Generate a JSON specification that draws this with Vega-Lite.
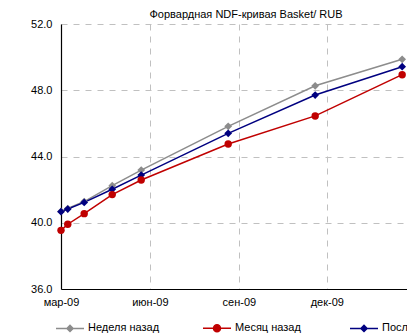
{
  "$schema": "https://vega.github.io/schema/vega-lite/v6.json",
  "width": 346,
  "height": 265,
  "autosize": {"type": "none"},
  "padding": {"left": 61, "top": 24, "right": 0, "bottom": 47},
  "background": "white",
  "title": {
    "text": "Форвардная NDF-кривая Basket/ RUB",
    "font": "Liberation Sans",
    "fontSize": 11,
    "fontWeight": "normal",
    "color": "#000000",
    "anchor": "middle",
    "dx": 12,
    "offset": -2
  },
  "config": {
    "view": {"stroke": null},
    "font": "Liberation Sans"
  },
  "data": {
    "values": [
      {"series": "Неделя назад", "date": "2009-03-01", "value": 40.68},
      {"series": "Неделя назад", "date": "2009-03-08", "value": 40.86},
      {"series": "Неделя назад", "date": "2009-03-25", "value": 41.28},
      {"series": "Неделя назад", "date": "2009-04-23", "value": 42.24},
      {"series": "Неделя назад", "date": "2009-05-23", "value": 43.18},
      {"series": "Неделя назад", "date": "2009-08-21", "value": 45.82},
      {"series": "Неделя назад", "date": "2009-11-19", "value": 48.27},
      {"series": "Неделя назад", "date": "2010-02-17", "value": 49.87},
      {"series": "Месяц назад", "date": "2009-03-01", "value": 39.54},
      {"series": "Месяц назад", "date": "2009-03-08", "value": 39.91},
      {"series": "Месяц назад", "date": "2009-03-25", "value": 40.55},
      {"series": "Месяц назад", "date": "2009-04-23", "value": 41.7},
      {"series": "Месяц назад", "date": "2009-05-23", "value": 42.58},
      {"series": "Месяц назад", "date": "2009-08-21", "value": 44.75},
      {"series": "Месяц назад", "date": "2009-11-19", "value": 46.45},
      {"series": "Месяц назад", "date": "2010-02-17", "value": 48.94},
      {"series": "Посл. данные", "date": "2009-03-01", "value": 40.67},
      {"series": "Посл. данные", "date": "2009-03-08", "value": 40.83},
      {"series": "Посл. данные", "date": "2009-03-25", "value": 41.23},
      {"series": "Посл. данные", "date": "2009-04-23", "value": 42.02},
      {"series": "Посл. данные", "date": "2009-05-23", "value": 42.88},
      {"series": "Посл. данные", "date": "2009-08-21", "value": 45.4},
      {"series": "Посл. данные", "date": "2009-11-19", "value": 47.71},
      {"series": "Посл. данные", "date": "2010-02-17", "value": 49.42}
    ]
  },
  "encoding": {
    "x": {
      "field": "date",
      "type": "temporal",
      "scale": {
        "type": "utc",
        "domain": [
          {"year": 2009, "month": 3, "date": 1, "utc": true},
          {"year": 2010, "month": 2, "date": 22, "utc": true}
        ],
        "nice": false
      },
      "axis": {
        "title": null,
        "values": [
          {"year": 2009, "month": 3, "date": 1, "utc": true},
          {"year": 2009, "month": 6, "date": 1, "utc": true},
          {"year": 2009, "month": 9, "date": 1, "utc": true},
          {"year": 2009, "month": 12, "date": 1, "utc": true}
        ],
        "labelExpr": "['янв','фев','мар','апр','май','июн','июл','авг','сен','окт','ноя','дек'][utcmonth(datum.value)] + '-' + utcFormat(datum.value, '%y')",
        "ticks": false,
        "labelPadding": 7,
        "labelFont": "Liberation Sans",
        "labelFontSize": 11,
        "labelColor": "#000000",
        "labelFlush": false,
        "domainColor": "#000000",
        "domainWidth": 1.2,
        "grid": true,
        "gridColor": "#c0c0c0",
        "gridDash": [6, 6],
        "gridWidth": 1
      }
    },
    "y": {
      "field": "value",
      "type": "quantitative",
      "scale": {"domain": [36, 52], "nice": false, "zero": false},
      "axis": {
        "title": null,
        "values": [36, 40, 44, 48, 52],
        "format": ".1f",
        "ticks": false,
        "labelPadding": 9,
        "labelFont": "Liberation Sans",
        "labelFontSize": 11,
        "labelColor": "#000000",
        "domainColor": "#000000",
        "domainWidth": 1.2,
        "grid": true,
        "gridColor": "#c0c0c0",
        "gridDash": [6, 6],
        "gridWidth": 1
      }
    },
    "color": {
      "field": "series",
      "type": "nominal",
      "sort": ["Неделя назад", "Месяц назад", "Посл. данные"],
      "scale": {
        "domain": ["Неделя назад", "Месяц назад", "Посл. данные"],
        "range": ["#8c8c8c", "#c00000", "#000080"]
      },
      "legend": {
        "title": null,
        "orient": "none",
        "legendX": -6,
        "legendY": 289,
        "direction": "horizontal",
        "columns": 3,
        "gridAlign": "all",
        "columnPadding": 40,
        "labelFont": "Liberation Sans",
        "labelFontSize": 11,
        "labelColor": "#000000",
        "labelLimit": 200,
        "labelOffset": 3,
        "symbolSize": 784,
        "symbolStrokeWidth": 1.5,
        "symbolOffset": 0,
        "encode": {
          "symbols": {
            "update": {
              "shape": {"signal": "datum.value === 'Месяц назад' ? 'M-1,0L-0.25,0M0.25,0L1,0M-0.25,0A0.25,0.25,0,1,1,0.25,0A0.25,0.25,0,1,1,-0.25,0Z' : 'M-1,0L-0.22,0M0.22,0L1,0M-0.22,0L0,-0.22L0.22,0L0,0.22Z'"},
              "fillOpacity": {"value": 1}
            }
          }
        }
      }
    },
    "order": {"field": "date", "type": "temporal"}
  },
  "layer": [
    {"mark": {"type": "line", "strokeWidth": 1.5}},
    {
      "transform": [{"filter": "datum.series !== 'Месяц назад'"}],
      "mark": {"type": "point", "shape": "diamond", "filled": true, "size": 60, "opacity": 1}
    },
    {
      "transform": [{"filter": "datum.series === 'Месяц назад'"}],
      "mark": {"type": "point", "shape": "circle", "filled": true, "size": 55, "opacity": 1}
    }
  ]
}
